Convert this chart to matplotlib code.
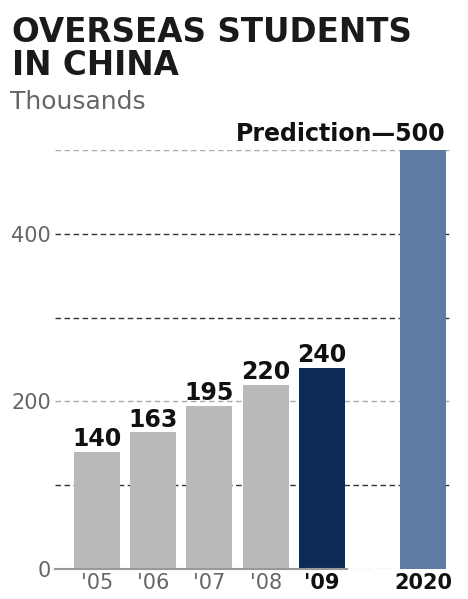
import numpy as np
import matplotlib.pyplot as plt

years = ["'05", "'06", "'07", "'08", "'09", "2020"]
students = [140, 163, 195, 220, 240, 500]
xpos = [0, 1, 2, 3, 4, 5.8]
colors = ["#b8b9bb", "#b8b9bb", "#b8b9bb", "#b8b9bb", "#0b2b55", "#5d7ca4"]
grid_vals = [100, 200, 300, 400, 500]
grid_cols = ["#333333", "#aaaaaa", "#333333", "#333333", "#aaaaaa"]
ytick_vals = [0, 200, 400]

fig = plt.figure(figsize=(4.68, 5.99), dpi=100)
ax = fig.add_axes([55/468, 30/599, 396/468, 419/599])

for g, c in zip(grid_vals, grid_cols):
  ax.axhline(g, color=c, ls=(0, (4, 2.5)), lw=1.0, zorder=0)

ax.bar(xpos, students, 0.82, color=colors, zorder=2)

# baseline
ax.plot([-0.75, 4.45], [0, 0], color="#999999", lw=1.5, zorder=3, clip_on=False)
ax.plot([4.45, 6.2], [0, 0], color="#cccccc", lw=1.0, ls=(0, (4, 3)), zorder=1)

for i in range(5):
  ax.text(xpos[i], students[i] + 1, str(students[i]), ha='center', va='bottom',
          fontsize=17, fontweight='heavy', color='#111111')

ax.text(xpos[5] + 0.41, 505, "Prediction\u2014500", ha='right', va='bottom',
        fontsize=17, fontweight='heavy', color='#111111')

ax.set_xlim(-0.75, 6.3)
ax.set_ylim(0, 500)
ax.set_xticks(xpos)
ax.set_xticklabels(years, fontsize=15, color='#666666')
for lab in ax.get_xticklabels()[4:]:
  lab.set_fontweight('heavy')
  lab.set_color('#111111')
ax.set_yticks(ytick_vals)
ax.set_yticklabels([str(v) for v in ytick_vals], fontsize=15, color='#666666')
ax.tick_params(length=0, pad=3)
for s in ax.spines.values():
  s.set_visible(False)

fig.text(12/468, 1 - 16/599, "OVERSEAS STUDENTS\nIN CHINA", ha='left', va='top',
         fontsize=23.5, fontweight='heavy', color='#1a1a1a', linespacing=1.0)
fig.text(10/468, 1 - 90/599, "Thousands", ha='left', va='top',
         fontsize=18, color='#666666', family=['Liberation Sans Narrow', 'DejaVu Sans'])

plt.savefig("out.png", dpi=100)
